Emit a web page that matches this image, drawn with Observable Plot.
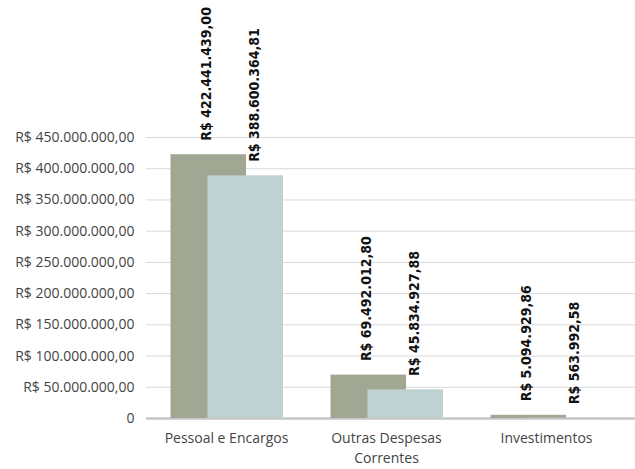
<!DOCTYPE html>
<html>
<head>
<meta charset="utf-8">
<script src="https://cdn.jsdelivr.net/npm/d3@7"></script>
<script src="https://cdn.jsdelivr.net/npm/@observablehq/plot@0.6"></script>
<style>
  html, body { margin: 0; padding: 0; background: #ffffff; }
  #chart svg { display: block; }
</style>
</head>
<body>
<div id="chart"></div>
<script>
const categories = ["Pessoal e Encargos", "Outras Despesas Correntes", "Investimentos"];
const categoryLabels = ["Pessoal e Encargos", "Outras Despesas\nCorrentes", "Investimentos"];
const series1 = [422441439.00, 69492012.80, 5094929.86];
const series2 = [388600364.81, 45834927.88, 563992.58];
const yTicks = [0, 50e6, 100e6, 150e6, 200e6, 250e6, 300e6, 350e6, 400e6, 450e6];

const brl = d3.formatLocale({decimal: ",", thousands: ".", grouping: [3], currency: ["R$ ", ""]});
const fmtMoney = brl.format("$,.2f");

const data1 = categories.map((c, i) => ({cat: c, value: series1[i]}));
const data2 = categories.map((c, i) => ({cat: c, value: series2[i]}));

const tickFont = "'Open Sans', 'Noto Sans', sans-serif";
const labelFont = "'DejaVu Sans Condensed', 'Liberation Sans Narrow', 'DejaVu Sans', sans-serif";

const chart = Plot.plot({
  width: 635,
  height: 469,
  marginLeft: 146,
  marginRight: 0,
  marginTop: 137,
  marginBottom: 51,
  style: {background: "#ffffff", fontFamily: tickFont, fontSize: "14px", color: "#3f3f3f", overflow: "visible"},
  x: {domain: categories, paddingInner: 0, paddingOuter: 0.023, align: 0, axis: null},
  y: {domain: [0, 450e6], axis: null},
  marks: [
    Plot.ruleY(yTicks.filter(d => d > 0), {y: d => d, stroke: "#d9d9d9", strokeWidth: 1}),
    Plot.ruleY([0], {stroke: "#c6c6c6", strokeWidth: 2.5}),
    Plot.barY(data1, {x: "cat", y: "value", fill: "#a0a894", insetLeft: 24.5, insetRight: 60}),
    Plot.barY(data2, {x: "cat", y: "value", fill: "#bfd1d0", insetLeft: 61.5, insetRight: 23}),
    Plot.axisY({ticks: yTicks, tickSize: 0, tickPadding: 12, fontSize: 14, fill: "#444444",
      tickFormat: d => d === 0 ? "0" : fmtMoney(d), label: null}),
    Plot.axisX({tickSize: 0, tickPadding: 10, fontSize: 14, fill: "#444444", lineHeight: 1.45,
      tickFormat: d => categoryLabels[categories.indexOf(d)], label: null}),
    Plot.text(data1, {x: "cat", y: "value", text: d => fmtMoney(d.value), rotate: -90, textAnchor: "start",
      dx: -20, dy: -14, fontSize: 14, fontWeight: "bold", fill: "#111111", fontFamily: labelFont}),
    Plot.text(data2, {x: "cat", y: "value", text: d => fmtMoney(d.value), rotate: -90, textAnchor: "start",
      dx: 28, dy: -14, fontSize: 14, fontWeight: "bold", fill: "#111111", fontFamily: labelFont})
  ]
});
document.getElementById("chart").appendChild(chart);
</script>
</body>
</html>
